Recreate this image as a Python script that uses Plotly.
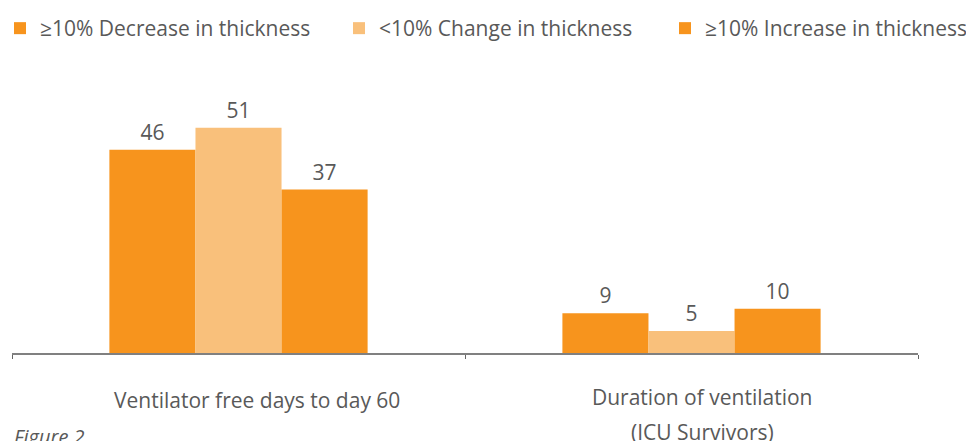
import plotly.graph_objects as go

categories = ["Ventilator free days to day 60", "Duration of ventilation<br>(ICU Survivors)"]
series_names = ["≥10% Decrease in thickness", "<10% Change in thickness", "≥10% Increase in thickness"]
decrease_vals = [46, 9]
change_vals = [51, 5]
increase_vals = [37, 10]

colors = ["#F7941D", "#F9C07B", "#F7941D"]
text_color = "#595959"
font_family = "'Open Sans', Roboto, sans-serif"
legend_ids = ["legend", "legend2", "legend3"]
legend_x_px = [-13, 339, 665]

fig = go.Figure()
for i, (name, vals, col) in enumerate(zip(series_names, [decrease_vals, change_vals, increase_vals], colors)):
    fig.add_trace(go.Bar(
        name=name, x=categories, y=vals, marker=dict(color=col, line=dict(width=0)),
        offsetgroup=str(i), alignmentgroup="a", legend=legend_ids[i], hoverinfo="y",
    ))
    fig.add_trace(go.Scatter(
        x=categories, y=vals, mode="markers+text", text=vals, textposition="top center",
        marker=dict(size=6, opacity=0), orientation="v", offsetgroup=str(i), alignmentgroup="a",
        showlegend=False, hoverinfo="skip", cliponaxis=False,
        textfont=dict(size=21, color=text_color, family=font_family),
    ))

# category labels as annotations (one per line)
label_offsets = {0: [-47], 1: [-44, -79]}
label_xshift = {0: 18, 1: 11}
for i, cat in enumerate(categories):
    lines = cat.split("<br>")
    for j, line in enumerate(lines):
        fig.add_annotation(x=cat, y=0, xref="x", yref="y", text=line, showarrow=False,
                           yanchor="middle", yshift=label_offsets[i][j], xshift=label_xshift[i],
                           font=dict(size=21, color=text_color, family=font_family))

fig.add_annotation(x=0, y=-0.257, xref="paper", yref="paper", xanchor="left", yanchor="top",
                   text="Figure 2", showarrow=False,
                   font=dict(size=20, color=text_color, family=font_family, style="italic"))

legend_common = dict(orientation="h", xref="container", yref="container", y=1 - 8 / 441,
                     xanchor="left", yanchor="top", bgcolor="rgba(0,0,0,0)",
                     font=dict(size=21, color=text_color, family=font_family), itemclick=False)
legends = {}
for lid, px in zip(legend_ids, legend_x_px):
    legends[lid] = dict(legend_common, x=px / 966)

fig.update_layout(
    width=966, height=441,
    margin=dict(l=12, r=48, t=88, b=88),
    paper_bgcolor="white", plot_bgcolor="white",
    barmode="group", bargap=0.43, bargroupgap=0,
    scattermode="group", scattergap=0.43,
    showlegend=True,
    xaxis=dict(type="category", tickson="boundaries", ticks="outside", ticklen=4,
               tickcolor="#666666", showticklabels=False, showline=True,
               linecolor="#808080", linewidth=1.5, showgrid=False),
    yaxis=dict(range=[0, 60], visible=False, showgrid=False),
    **legends,
)

fig.write_html("out.html", config={"displayModeBar": False},
               post_script="document.body.style.margin='0px';")
